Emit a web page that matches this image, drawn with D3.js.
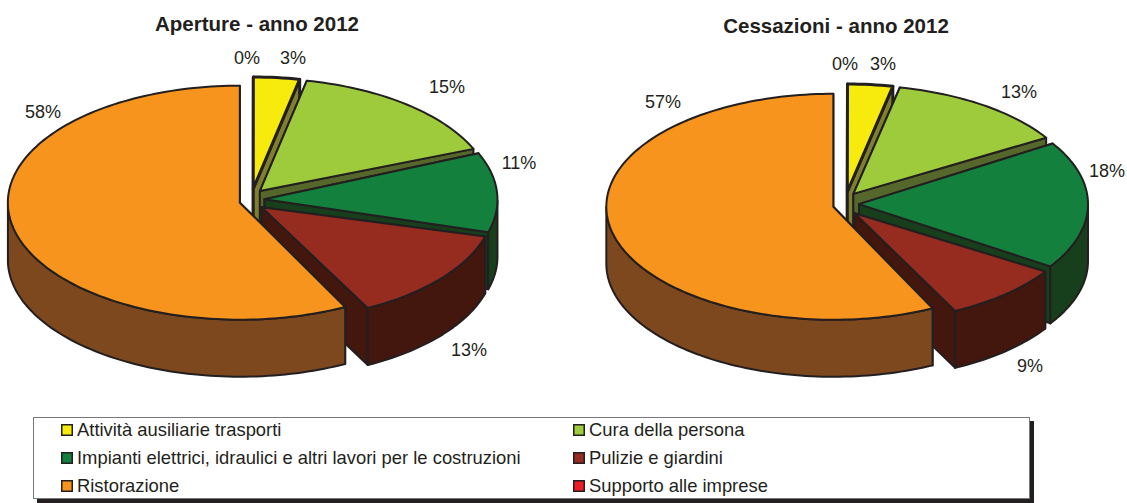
<!DOCTYPE html>
<html><head><meta charset="utf-8">
<script src="https://cdn.jsdelivr.net/npm/d3@7"></script>
<style>html,body{margin:0;padding:0;background:#fff}svg{display:block}text{font-family:"Liberation Sans",Arial,sans-serif;fill:#231f20}</style>
</head><body><svg id="c" width="1127" height="503"></svg>
<script>
const categories = ["Attività ausiliarie trasporti","Cura della persona","Impianti elettrici, idraulici e altri lavori per le costruzioni","Pulizie e giardini","Ristorazione","Supporto alle imprese"];
const topColors  = ["#f6eb0d","#9ecb3c","#13813d","#962b20","#f7941e","#ed1c24"];
const sideColors = ["#7f7f2f","#55672a","#173f1b","#43160e","#7d481e","#7a0e12"];
const apertureValues   = [3.2,15.3,11.0,13.0,57.5,0];
const cessazioniValues = [3.2,12.8,18.3,8.5,57.2,0];
const apertureLabels   = ["3%","15%","11%","13%","58%","0%"];
const cessazioniLabels = ["3%","13%","18%","9%","57%","0%"];

const charts = [
 {title:"Aperture - anno 2012",titleX:257,titleY:31,values:apertureValues,labels:apertureLabels,
  cx:252,cy:200,rx:232,ry:117,depth:57,ex:12.5,ey:11.5,rimEx:13.5,rimEy:6,
  labelPos:[[293,64],[447,93],[519,169],[469,356],[43,118],[247,64]]},
 {title:"Cessazioni - anno 2012",titleX:836,titleY:33,values:cessazioniValues,labels:cessazioniLabels,
  cx:846,cy:204,rx:227,ry:113,depth:57,ex:13,ey:12.3,rimEx:15,rimEy:7,
  labelPos:[[883,70],[1019,98],[1107,177],[1030,372],[663,108],[845,70]]}
];
const svg = d3.select("#c");
const pie = d3.pie().sort(null).value(d=>d.v);
const line = d3.line();

charts.forEach(ch=>{
  const g = svg.append("g");
  g.append("text").attr("x",ch.titleX).attr("y",ch.titleY).attr("text-anchor","middle")
    .attr("font-size",20.5).attr("font-weight","bold").text(ch.title);
  const xs = d3.scaleLinear().domain([-1,1]).range([-ch.rx,ch.rx]);
  const ys = d3.scaleLinear().domain([-1,1]).range([ch.ry,-ch.ry]);
  const arcs = pie(ch.values.map((v,i)=>({v,i})));
  arcs.forEach(a=>{
    const i=a.data.i; if(a.data.v===0) return;
    const mid=(a.startAngle+a.endAngle)/2;
    const ax=ch.cx+ch.ex*Math.sin(mid), ay=ch.cy-ch.ey*Math.cos(mid);
    const isBase=a.data.v>50;
    const ox=isBase?ax:ch.cx+ch.rimEx*Math.sin(mid), oy=isBase?ay:ch.cy-ch.rimEy*Math.cos(mid);
    const pt=t=>[ox+xs(Math.sin(t)),oy+ys(Math.cos(t))];
    const n=Math.max(8,Math.round((a.endAngle-a.startAngle)*40));
    const rim=d3.range(n+1).map(k=>pt(a.startAngle+(a.endAngle-a.startAngle)*k/n));
    const down=p=>[p[0],p[1]+ch.depth];
    const sw=i===0?3:2;
    const wall=pts=>g.append("path").attr("d",line(pts)+"Z").attr("fill",sideColors[i])
       .attr("stroke","#231f20").attr("stroke-width",sw).attr("stroke-linejoin","round");
    const apex=[ax,ay];
    wall([apex,rim[0],down(rim[0]),down(apex)]);
    wall([apex,rim[n],down(rim[n]),down(apex)]);
    const front=rim.filter((p,k)=>{const t=a.startAngle+(a.endAngle-a.startAngle)*k/n;return Math.cos(t)<=0;});
    if(front.length>1) wall(front.concat(front.slice().reverse().map(down)));
    g.append("path").attr("d",line([apex,...rim])+"Z").attr("fill",topColors[i])
       .attr("stroke","#231f20").attr("stroke-width",sw).attr("stroke-linejoin","round");
  });
  ch.labels.forEach((t,i)=>{
    g.append("text").attr("x",ch.labelPos[i][0]).attr("y",ch.labelPos[i][1])
     .attr("text-anchor","middle").attr("font-size",18).text(t);
  });
});

const lg=svg.append("g");
lg.append("rect").attr("x",37).attr("y",421).attr("width",997).attr("height",82).attr("fill","#231f20");
lg.append("rect").attr("x",33.5).attr("y",417.5).attr("width",996).attr("height",81).attr("fill","#fff").attr("stroke","#77787b").attr("stroke-width",1);
categories.forEach((c,i)=>{
  const col=i%2,row=Math.floor(i/2);
  const x=col?573:61,y=[430,458,486][row];
  lg.append("rect").attr("x",x+.75).attr("y",y-5.25).attr("width",10.5).attr("height",10.5)
    .attr("fill",topColors[i]).attr("stroke","#231f20").attr("stroke-width",1.5);
  lg.append("text").attr("x",x+16).attr("y",y+6).attr("font-size",18.4).text(c);
});
</script></body></html>
